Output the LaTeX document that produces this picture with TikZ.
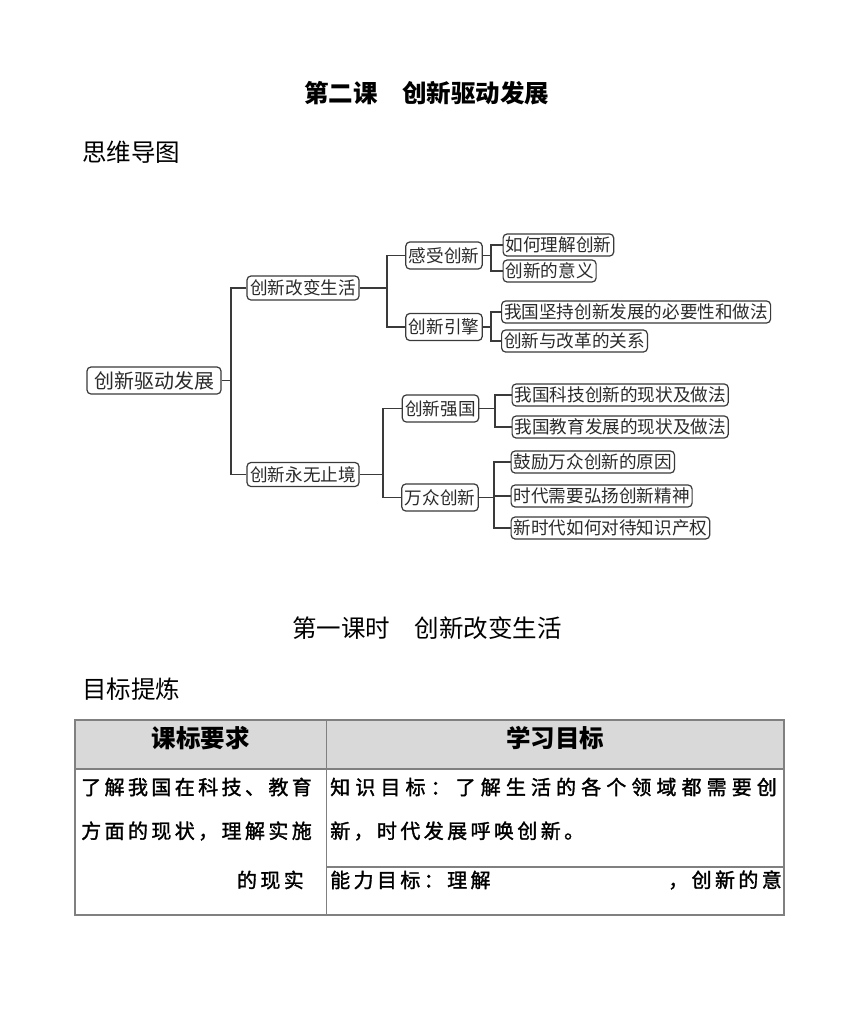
\documentclass[tikz,border=0pt]{standalone}
\usepackage{fontspec}
\setmainfont{Noto Sans CJK SC}
\newfontfamily\tbfont[LetterSpace=17,FakeBold=1.5]{Noto Sans CJK SC}
\newfontfamily\tbwide[LetterSpace=25.5,FakeBold=1.5]{Noto Sans CJK SC}
\definecolor{mmline}{HTML}{3A3A3A}
\definecolor{mmtext}{HTML}{2A2A2A}
\definecolor{hdrfill}{HTML}{D9D9D9}
\definecolor{tabline}{HTML}{808080}
\tikzset{
  mmbox/.style={draw=mmline, line width=1.2pt, rounded corners=4pt, text=mmtext,
    inner ysep=0pt, font=\fontsize{17.6}{20}\selectfont},
  rootbox/.style={mmbox, minimum width=134pt, minimum height=27pt, inner xsep=6pt,
    font=\fontsize{20}{23}\selectfont},
  lvone/.style={mmbox, minimum width=112pt, minimum height=24pt, inner xsep=3pt},
  lvtwo/.style={mmbox, minimum width=76pt, minimum height=27pt, inner xsep=3pt},
  leafbox/.style={mmbox, anchor=west, minimum height=22pt, inner xsep=2.5pt},
  conn/.style={draw=mmline, line width=1.2pt},
  titletext/.style={anchor=west, inner sep=0pt, font=\fontsize{24.5}{28}\selectfont},
  hdrtext/.style={inner sep=0pt, font=\bfseries\fontsize{24.5}{28}\selectfont},
  bodytext/.style={anchor=west, inner sep=0pt, font=\tbfont\fontsize{20}{23}\selectfont},
  tabrule/.style={draw=tabline, line width=1.2pt}
}
\begin{document}
\begin{tikzpicture}[x=1pt,y=-1pt]
\useasboundingbox[fill=white] (0,0) rectangle (860,1012);

% titles
\node[titletext, font=\bfseries\fontsize{24.5}{28}\selectfont] (t1) at (304,93) {第二课　创新驱动发展};
\node[titletext] (t2) at (82,152) {思维导图};
\node[titletext] (t3) at (292,628) {第一课时　创新改变生活};
\node[titletext] (t4) at (82,689) {目标提炼};

% mind map nodes
\node[rootbox] (root) at (154,380.5) {创新驱动发展};
\node[lvone] (a) at (303,288) {创新改变生活};
\node[lvone] (b) at (303,474.5) {创新永无止境};
\node[lvtwo] (a1) at (444,255.5) {感受创新};
\node[lvtwo] (a2) at (444,327) {创新引擎};
\node[lvtwo] (b1) at (440.5,408.5) {创新强国};
\node[lvtwo] (b2) at (440,497.5) {万众创新};
\node[leafbox] (a11) at (502.5,245) {如何理解创新};
\node[leafbox] (a12) at (502.5,271) {创新的意义};
\node[leafbox] (a21) at (501,312) {我国坚持创新发展的必要性和做法};
\node[leafbox] (a22) at (501,341) {创新与改革的关系};
\node[leafbox] (b11) at (511.5,395) {我国科技创新的现状及做法};
\node[leafbox] (b12) at (511.5,427) {我国教育发展的现状及做法};
\node[leafbox] (b21) at (510.5,462) {鼓励万众创新的原因};
\node[leafbox] (b22) at (510.5,496) {时代需要弘扬创新精神};
\node[leafbox] (b23) at (510.5,528) {新时代如何对待知识产权};

% bus points
\coordinate (k0) at (231,380.5);
\coordinate (ka) at (387,288);
\coordinate (kb) at (383,474.5);
\coordinate (ka1) at (491,255.5);
\coordinate (ka2) at (491,327);
\coordinate (kb1) at (495,408.5);
\coordinate (kb2) at (494,497.5);

% connectors
\draw[conn] (root.east) -- (k0);
\draw[conn] (a.west) -| (k0);
\draw[conn] (b.west) -| (k0);
\draw[conn] (a.east) -- (ka);
\draw[conn] (a1.west) -| (ka);
\draw[conn] (a2.west) -| (ka);
\draw[conn] (b.east) -- (kb);
\draw[conn] (b1.west) -| (kb);
\draw[conn] (b2.west) -| (kb);
\draw[conn] (a1.east) -- (ka1);
\draw[conn] (a11.west) -| (ka1);
\draw[conn] (a12.west) -| (ka1);
\draw[conn] (a2.east) -- (ka2);
\draw[conn] (a21.west) -| (ka2);
\draw[conn] (a22.west) -| (ka2);
\draw[conn] (b1.east) -- (kb1);
\draw[conn] (b11.west) -| (kb1);
\draw[conn] (b12.west) -| (kb1);
\draw[conn] (b2.east) -- (kb2);
\draw[conn] (b21.west) -| (kb2);
\draw[conn] (b22.west) -| (kb2);
\draw[conn] (b23.west) -| (kb2);

% table
\fill[hdrfill] (75,720) rectangle (784,769);
\draw[tabrule] (75,720) rectangle (784,915);
\draw[tabrule] (75,769) -- (784,769);
\draw[tabrule] (326.5,720) -- (326.5,915);
\draw[tabrule] (326.5,867) -- (784,867);

\node[hdrtext] (h1) at (200.5,738) {课标要求};
\node[hdrtext] (h2) at (555,738) {学习目标};

\node[bodytext] (l1) at (81,787) {了解我国在科技、教育};
\node[bodytext] (l2) at (81,831) {方面的现状，理解实施};
\node[bodytext, anchor=east] (l3) at (304,880) {的现实};
\node[bodytext, font=\tbwide\fontsize{20}{23}\selectfont] (r1) at (330,787) {知识目标：了解生活的各个领域都需要创};
\node[bodytext] (r2) at (330,831) {新，时代发展呼唤创新。};
\node[bodytext] (r3) at (330,880) {能力目标：理解};
\node[bodytext, anchor=east] (r4) at (782,880) {，创新的意};
\end{tikzpicture}
\end{document}
